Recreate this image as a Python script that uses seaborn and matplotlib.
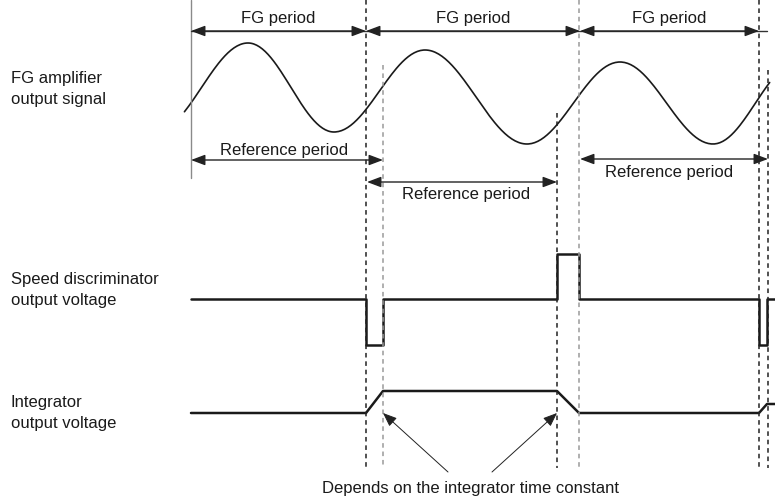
import numpy as np
import pandas as pd
import matplotlib
matplotlib.use("Agg")
import matplotlib.pyplot as plt
import seaborn as sns

# ---------------- data (diagram time / level values, in image units) ----------------
fg_edges = [191, 366, 580, 759]                 # FG period boundaries
fg_line_end = 767
ref_starts = [191, 367, 580]
ref_ends = [383, 557, 768]
ref_y = [160, 182, 159]
ref_text_pos = [(284, 150), (466, 194), (669, 172)]

# FG amplifier waveform extrema (x, level) incl. virtual ones outside the plotted range
wave_ext_x = [155, 248, 334, 425, 527, 620, 713, 798]
wave_ext_y = [132, 43, 132, 50, 144, 62, 144, 62]
wave_start, wave_end = 183, 770

# speed discriminator
sd_start, sd_end = 191, 775
sd_base, sd_low, sd_high = 299, 345, 254
sd_pulses = [(366, 383, "low"), (557, 579, "high"), (759, 767, "low")]

# integrator
int_start, int_end = 191, 775
int_low, int_high, int_partial = 413, 391, 404
int_events = [(366, int_low), (383, int_high), (557, int_high), (579, int_low),
              (759, int_low), (767, int_partial)]

# dashed timing markers: x, top, colour
dash_x = [366, 383, 557, 579, 759, 768]
dash_top = [0, 65, 113, 0, 0, 70]
dash_dark = [True, False, True, False, True, True]
dash_bottom = 468

labels = [("FG amplifier\noutput signal", 89),
          ("Speed discriminator\noutput voltage", 290),
          ("Integrator\noutput voltage", 413)]
note_text = "Depends on the integrator time constant"
note_pos = (470, 488)
note_targets = [(383, 413), (557, 413)]
note_sources = [(448, 472), (492, 472)]

# ---------------- build figure ----------------
sns.set_style("white")
plt.rcParams['font.family'] = ['Liberation Sans', 'DejaVu Sans']

fig = plt.figure(figsize=(7.75, 4.97), dpi=100)
ax = fig.add_axes([0, 0, 1, 1])
ax.set_xlim(0, 775)
ax.set_ylim(497, 0)
ax.axis("off")

ink = "#1a1a1a"

# waveform: half-cosine shaped segments between successive extrema
xs, ys = [], []
for i in range(len(wave_ext_x) - 1):
    x0, x1 = wave_ext_x[i], wave_ext_x[i + 1]
    y0, y1 = wave_ext_y[i], wave_ext_y[i + 1]
    t = np.linspace(0, 1, 60, endpoint=False)
    seg_x = x0 + (x1 - x0) * t
    seg_y = y0 + (y1 - y0) * (1 - np.cos(np.pi * t)) / 2
    xs.extend(seg_x)
    ys.extend(seg_y)
xs = np.array(xs)
ys = np.array(ys)
m = (xs >= wave_start) & (xs <= wave_end)
wave_df = pd.DataFrame({"x": xs[m], "y": ys[m]})
sns.lineplot(data=wave_df, x="x", y="y", ax=ax, sort=False, estimator=None,
             color=ink, lw=1.2)

# speed discriminator trace
sx, sy = [sd_start], [sd_base]
for a, b, kind in sd_pulses:
    lvl = sd_low if kind == "low" else sd_high
    sx += [a, a, b, b]
    sy += [sd_base, lvl, lvl, sd_base]
sx.append(sd_end)
sy.append(sd_base)
sd_df = pd.DataFrame({"x": sx, "y": sy})
sns.lineplot(data=sd_df, x="x", y="y", ax=ax, sort=False, estimator=None,
             color=ink, lw=1.8)

# integrator trace
ix = [int_start] + [e[0] for e in int_events] + [int_end]
iy = [int_low] + [e[1] for e in int_events] + [int_partial]
int_df = pd.DataFrame({"x": ix, "y": iy})
sns.lineplot(data=int_df, x="x", y="y", ax=ax, sort=False, estimator=None,
             color=ink, lw=1.8)

# dashed markers
for x, top, dark in zip(dash_x, dash_top, dash_dark):
    ax.plot([x, x], [top, dash_bottom], color="#222222" if dark else "#9a9a9a",
            lw=1.1, linestyle=(0, (3, 2.5)))

# solid left reference line
ax.plot([191, 191], [0, 178], color="#8a8a8a", lw=1.0)

arrow_kw = dict(arrowstyle="<|-|>,head_length=0.85,head_width=0.32",
                color="#222222", lw=1.0, shrinkA=0, shrinkB=0)

# FG period arrows
ax.plot([fg_edges[0], fg_line_end], [31, 31], color="#333333", lw=1.0)
for a, b in zip(fg_edges[:-1], fg_edges[1:]):
    ax.annotate("", xy=(b, 31), xytext=(a, 31), arrowprops=arrow_kw)
    ax.text((a + b) / 2, 19, "FG period", ha="center", va="center",
            fontsize=12, color=ink)

# Reference period arrows
for a, b, y, (tx, ty) in zip(ref_starts, ref_ends, ref_y, ref_text_pos):
    ax.annotate("", xy=(b, y), xytext=(a, y), arrowprops=arrow_kw)
    ax.text(tx, ty, "Reference period", ha="center", va="center",
            fontsize=12, color=ink)

# left labels
for txt, y in labels:
    ax.text(11, y, txt, ha="left", va="center", fontsize=12, color=ink,
            linespacing=1.5)

# note with arrows
ax.text(note_pos[0], note_pos[1], note_text, ha="center", va="center",
        fontsize=12, color=ink)
for (sx0, sy0), (tx0, ty0) in zip(note_sources, note_targets):
    ax.annotate("", xy=(tx0, ty0), xytext=(sx0, sy0),
                arrowprops=dict(arrowstyle="-|>,head_length=0.85,head_width=0.34",
                                color="#222222", lw=0.7, shrinkA=0, shrinkB=0))

fig.savefig("out.png", dpi=100)
